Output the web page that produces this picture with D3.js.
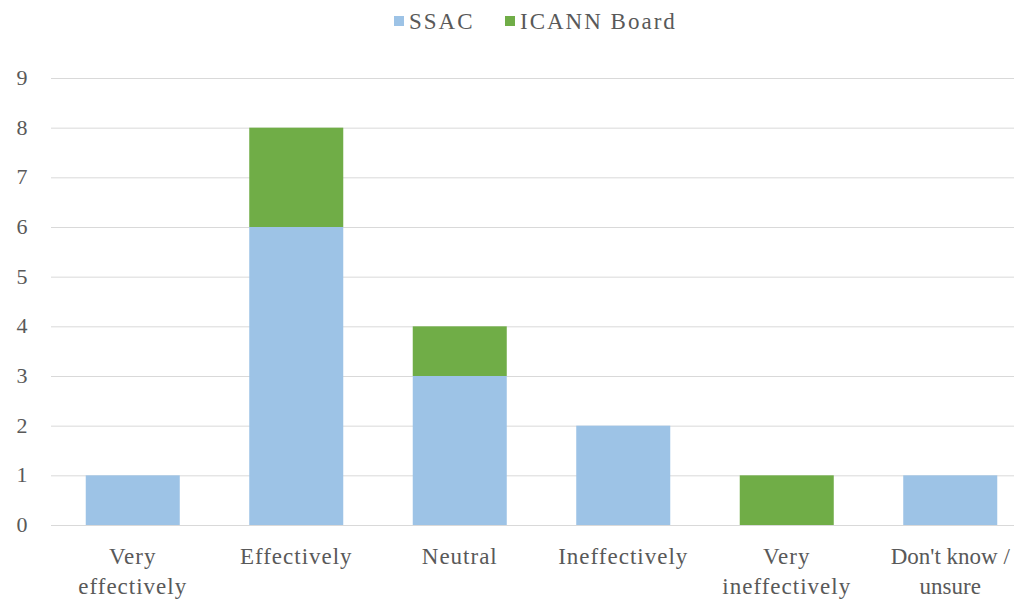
<!DOCTYPE html>
<html>
<head>
<meta charset="utf-8">
<script src="https://cdn.jsdelivr.net/npm/d3@7"></script>
<style>
  body { margin: 0; background: #fff; overflow: hidden; }
</style>
</head>
<body>
<div id="chart"></div>
<script>
const categories = [["Very", "effectively"], ["Effectively"], ["Neutral"], ["Ineffectively"], ["Very", "ineffectively"], ["Don't know /", "unsure"]]
const seriesNames = ["SSAC", "ICANN Board"]
const ssac = [1, 6, 3, 2, 0, 1]
const board = [0, 2, 1, 0, 1, 0]
const yTicks = [0, 1, 2, 3, 4, 5, 6, 7, 8, 9]
const colors = ["#9DC3E6", "#70AD47"]

const W = 1014, H = 602
const margin = { top: 78, left: 51, bottom: 77 }
const plotRight = 1032
const serif = "'Liberation Serif', 'Times New Roman', Times, 'DejaVu Serif', serif"
const textColor = "#595959"

const svg = d3.select("#chart").append("svg")
    .attr("width", W)
    .attr("height", H)
    .attr("font-family", serif)

const keys = categories.map((c, i) => i)
const x = d3.scaleBand()
    .domain(keys)
    .range([margin.left, plotRight])
    .paddingInner(0.425)
    .paddingOuter(0.2125)

const y = d3.scaleLinear()
    .domain([0, 9])
    .range([H - margin.bottom, margin.top])

// gridlines
svg.append("g")
    .selectAll("line")
    .data(yTicks)
    .enter().append("line")
    .attr("x1", margin.left)
    .attr("x2", W)
    .attr("y1", d => y(d) + 0.5)
    .attr("y2", d => y(d) + 0.5)
    .attr("stroke", "#D9D9D9")
    .attr("stroke-width", 1)

// y labels
svg.append("g")
    .selectAll("text")
    .data(yTicks)
    .enter().append("text")
    .attr("x", 22)
    .attr("y", d => y(d) + 7)
    .attr("text-anchor", "middle")
    .attr("font-family", serif)
    .attr("fill", textColor)
    .style("font-size", "22px")
    .text(d => d)

// stacked bars
const rows = keys.map(i => ({ i: i, SSAC: ssac[i], "ICANN Board": board[i] }))
const stack = d3.stack().keys(seriesNames)(rows)

svg.append("g")
    .selectAll("g")
    .data(stack)
    .enter().append("g")
    .attr("fill", (d, k) => colors[k])
    .selectAll("rect")
    .data(d => d)
    .enter().append("rect")
    .attr("x", d => x(d.data.i))
    .attr("width", x.bandwidth())
    .attr("y", d => y(d[1]))
    .attr("height", d => y(d[0]) - y(d[1]))

// x labels (last one sits at the right edge, so no extra spacing there)
const xl = svg.append("g")
    .selectAll("text")
    .data(categories)
    .enter().append("text")
    .attr("text-anchor", "middle")
    .attr("x", (d, i) => x(i) + x.bandwidth() / 2)
    .attr("y", 564)
    .attr("font-family", serif)
    .attr("fill", textColor)
    .attr("letter-spacing", (d, i) => i === categories.length - 1 ? 0 : 1)
    .style("font-size", "23px")
xl.selectAll("tspan")
    .data(d => d)
    .enter().append("tspan")
    .attr("x", function () { return d3.select(this.parentNode).attr("x") })
    .attr("dy", (d, j) => j === 0 ? 0 : 30)
    .text(d => d)

// legend
const legendX = [394, 505]
const lg = svg.append("g")
    .selectAll("g")
    .data(seriesNames)
    .enter().append("g")
    .attr("transform", (d, i) => "translate(" + legendX[i] + ",0)")
lg.append("rect")
    .attr("x", 0)
    .attr("y", 16)
    .attr("width", 10)
    .attr("height", 10)
    .attr("fill", (d, i) => colors[i])
lg.append("text")
    .attr("x", 15)
    .attr("y", 29)
    .attr("font-family", serif)
    .attr("fill", textColor)
    .attr("letter-spacing", 2)
    .style("font-size", "23px")
    .text(d => d)
</script>
</body>
</html>
